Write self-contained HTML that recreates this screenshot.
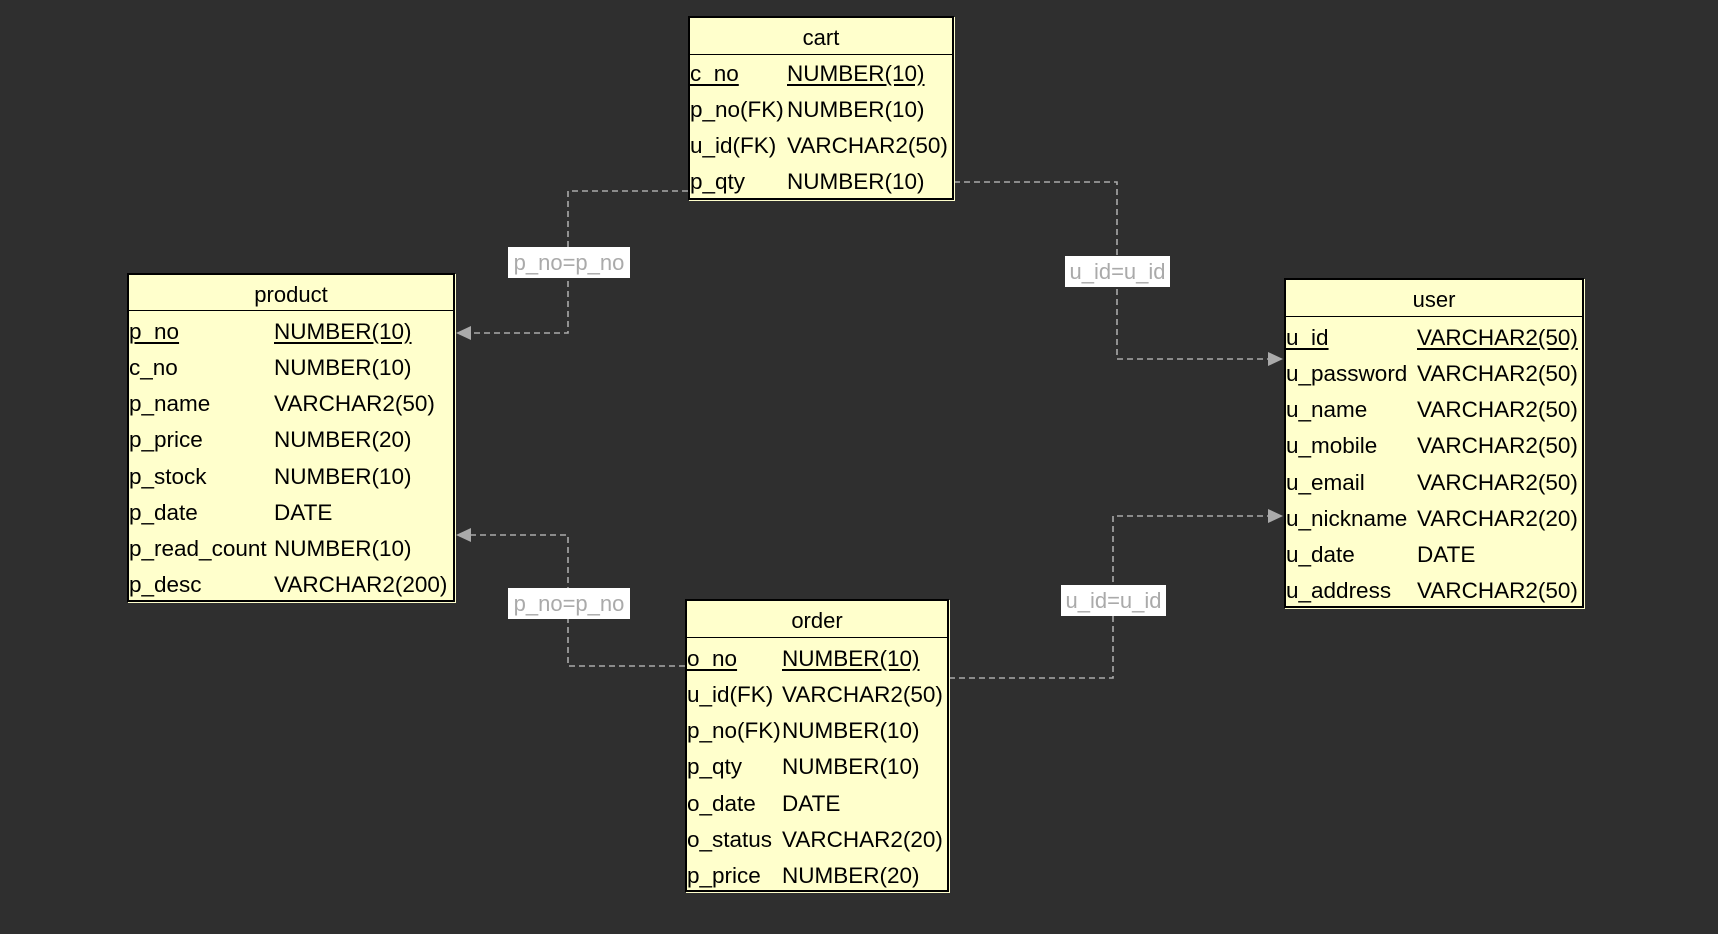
<!DOCTYPE html>
<html><head><meta charset="utf-8"><style>
body{margin:0;width:1718px;height:934px;background:#2f2f2f;position:relative;overflow:hidden;font-family:"Liberation Sans",sans-serif;}
.t{position:absolute;background:#ffffcc;border:2px solid #000;box-sizing:border-box;box-shadow:1px 1px 0 #ffffcc;}
.h{position:absolute;left:0;right:0;top:0;text-align:center;font-size:22px;color:#000;border-bottom:1.5px solid #000;}
.r{position:absolute;left:0;right:0;height:36px;line-height:38px;font-size:22.5px;color:#000;white-space:nowrap;}
.r span{position:absolute;top:0;}
.u{text-decoration:underline;text-underline-offset:3px;}
.lbl{position:absolute;background:#fff;color:#aaa;font-size:22px;line-height:31px;text-align:center;white-space:nowrap;}
svg{position:absolute;left:0;top:0;}
</style></head><body>
<svg width="1718" height="934">
<g fill="none" stroke="#aaa" stroke-width="1.6" stroke-dasharray="6,4">
<polyline points="688,191 568,191 568,333 470,333"/>
<polyline points="954,182 1117,182 1117,359 1270,359"/>
<polyline points="685,666 568,666 568,535 470,535"/>
<polyline points="949,678 1113,678 1113,516 1270,516"/>
</g>
<g fill="#aaa">
<polygon points="456,333 471,326 471,340"/>
<polygon points="456,535 471,528 471,542"/>
<polygon points="1283,359 1268,352 1268,366"/>
<polygon points="1283,516 1268,509 1268,523"/>
</g>
</svg>
<div class="lbl" style="left:508px;top:247px;width:122px;">p_no=p_no</div>
<div class="lbl" style="left:1065px;top:256px;width:105px;">u_id=u_id</div>
<div class="lbl" style="left:508px;top:588px;width:122px;">p_no=p_no</div>
<div class="lbl" style="left:1061px;top:585px;width:105px;">u_id=u_id</div>

<div class="t" style="left:688px;top:16px;width:266px;height:184px;">
<div class="h" style="height:36px;line-height:40px;">cart</div>
<div class="r" style="top:37px"><span class="u">c_no</span><span class="u" style="left:97px">NUMBER(10)</span></div>
<div class="r" style="top:73px"><span>p_no(FK)</span><span style="left:97px">NUMBER(10)</span></div>
<div class="r" style="top:109px"><span>u_id(FK)</span><span style="left:97px">VARCHAR2(50)</span></div>
<div class="r" style="top:145px"><span>p_qty</span><span style="left:97px">NUMBER(10)</span></div>
</div>

<div class="t" style="left:127px;top:273px;width:328px;height:329px;">
<div class="h" style="height:35px;line-height:40px;">product</div>
<div class="r" style="top:38px"><span class="u">p_no</span><span class="u" style="left:145px">NUMBER(10)</span></div>
<div class="r" style="top:74px"><span>c_no</span><span style="left:145px">NUMBER(10)</span></div>
<div class="r" style="top:110px"><span>p_name</span><span style="left:145px">VARCHAR2(50)</span></div>
<div class="r" style="top:146px"><span>p_price</span><span style="left:145px">NUMBER(20)</span></div>
<div class="r" style="top:183px"><span>p_stock</span><span style="left:145px">NUMBER(10)</span></div>
<div class="r" style="top:219px"><span>p_date</span><span style="left:145px">DATE</span></div>
<div class="r" style="top:255px"><span>p_read_count</span><span style="left:145px">NUMBER(10)</span></div>
<div class="r" style="top:291px"><span>p_desc</span><span style="left:145px">VARCHAR2(200)</span></div>
</div>

<div class="t" style="left:1284px;top:278px;width:300px;height:330px;">
<div class="h" style="height:36px;line-height:40px;">user</div>
<div class="r" style="top:39px"><span class="u">u_id</span><span class="u" style="left:131px">VARCHAR2(50)</span></div>
<div class="r" style="top:75px"><span>u_password</span><span style="left:131px">VARCHAR2(50)</span></div>
<div class="r" style="top:111px"><span>u_name</span><span style="left:131px">VARCHAR2(50)</span></div>
<div class="r" style="top:147px"><span>u_mobile</span><span style="left:131px">VARCHAR2(50)</span></div>
<div class="r" style="top:184px"><span>u_email</span><span style="left:131px">VARCHAR2(50)</span></div>
<div class="r" style="top:220px"><span>u_nickname</span><span style="left:131px">VARCHAR2(20)</span></div>
<div class="r" style="top:256px"><span>u_date</span><span style="left:131px">DATE</span></div>
<div class="r" style="top:292px"><span>u_address</span><span style="left:131px">VARCHAR2(50)</span></div>
</div>

<div class="t" style="left:685px;top:599px;width:264px;height:293px;">
<div class="h" style="height:36px;line-height:40px;">order</div>
<div class="r" style="top:39px"><span class="u">o_no</span><span class="u" style="left:95px">NUMBER(10)</span></div>
<div class="r" style="top:75px"><span>u_id(FK)</span><span style="left:95px">VARCHAR2(50)</span></div>
<div class="r" style="top:111px"><span>p_no(FK)</span><span style="left:95px">NUMBER(10)</span></div>
<div class="r" style="top:147px"><span>p_qty</span><span style="left:95px">NUMBER(10)</span></div>
<div class="r" style="top:184px"><span>o_date</span><span style="left:95px">DATE</span></div>
<div class="r" style="top:220px"><span>o_status</span><span style="left:95px">VARCHAR2(20)</span></div>
<div class="r" style="top:256px"><span>p_price</span><span style="left:95px">NUMBER(20)</span></div>
</div>
</body></html>
